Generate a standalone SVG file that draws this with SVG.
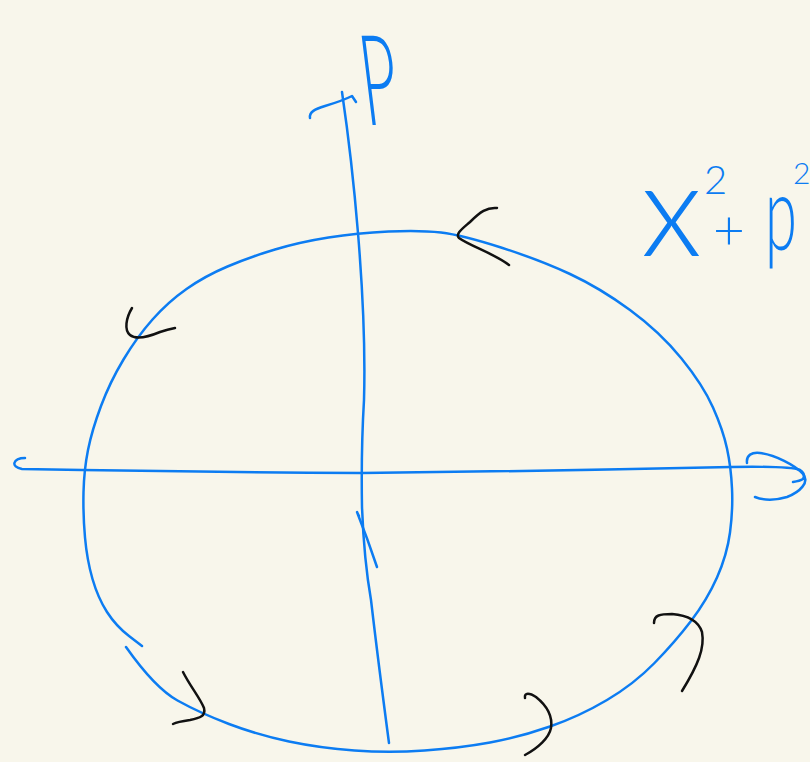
<svg xmlns="http://www.w3.org/2000/svg" width="810" height="762" viewBox="0 0 810 762">
<style>
.b{fill:none;stroke:#0c7cf2;stroke-width:2.5;stroke-linecap:round;stroke-linejoin:round}
.k{fill:none;stroke:#111;stroke-width:2.5;stroke-linecap:round;stroke-linejoin:round}
.t{fill:#0c7cf2;font-family:Lato,"Open Sans",Roboto,sans-serif;font-weight:300}
</style>
<rect width="810" height="762" fill="#f8f6eb"/>
<g id="circle">
<path class="b" d="M142,646 L129,636 Q116,626 107,612 Q98,598 92.5,579 Q87,560 85,537.5 Q83,515 83.5,492.5 Q84,470 88,450 Q92,430 101,406 Q110,382 123.5,359.5 Q137,337 152.5,319.5 Q168,302 186.5,289 Q205,276 227.5,266.5 Q250,257 275,249.5 Q300,242 328.5,237.5 Q357,233 388.5,231.5 Q420,230 441,232.5 Q462,235 501,247.5 Q540,260 570,274 Q600,288 630,310 Q660,332 681.5,358.5 Q703,385 713,407.5 Q723,430 727,448.5 Q731,467 732,488.5 Q733,510 730,532.5 Q727,555 717,577.5 Q707,600 691,621 Q675,642 654.5,663 Q634,684 607,700 Q580,716 550,726.5 Q520,737 490,742.5 Q460,748 424.5,750.5 Q389,753 354.5,750.5 Q320,748 289,741.5 Q258,735 229,724 Q200,713 177.5,700.5 Q155,688 126,647"/>
</g>
<g id="axes">
<path class="b" d="M342,92 Q352,160 358,233 Q366,330 364,400 Q361,450 362,507 Q364,560 371,600 Q378,660 389,743"/>
<path class="b" d="M310,118 C309,112 315,109 325,106 C335,103 346,99 352,96 L356,102"/>
<path class="b" d="M359,516 L357,512 Q368,540 377,567"/>
<path class="b" d="M25,458 C13,458 10,467 22,469 Q200,472 362,473 Q550,471 731,467 Q790,466 800,470 Q806,474 803,479 Q800,481 793,482"/>
<path class="b" d="M747,463 C746,455 752,452 760,453 C775,455 795,465 803,474 C810,482 800,492 787,497 C777,500 765,501 755,497"/>
</g>
<g id="arrows">
<path class="k" d="M497,208 C487,207 480,212 470,222 C462,229 455,234 459,238 C470,246 495,254 509,265"/>
<path class="k" d="M132,308 C126,318 124,330 130,335 C136,340 148,337 160,332 C166,330 170,329 175,328"/>
<path class="k" d="M183,672 C190,686 200,698 204,708 C206,716 200,718 190,720 C183,721 177,722 173,724"/>
<path class="k" d="M525,698 C524,692 530,693 536,697 C546,705 553,715 551,728 C549,738 538,748 525,755"/>
<path class="k" d="M654,623 C654,615 660,614 672,614 C685,615 698,620 702,632 C705,648 698,665 682,691"/>
</g>
<g id="labels">
<text class="t" font-size="70" transform="translate(366,125) skewX(7) scale(0.9,1.8)">P</text>
<text class="t" font-size="130" x="641" y="256">x</text>
<text class="t" font-size="40" x="704" y="194">2</text>
<text class="t" font-size="55" x="713" y="250">+</text>
<text class="t" font-size="105" transform="translate(765,250) scale(0.55,1)">p</text>
<text class="t" font-size="30" x="793" y="184">2</text>
</g>
</svg>
